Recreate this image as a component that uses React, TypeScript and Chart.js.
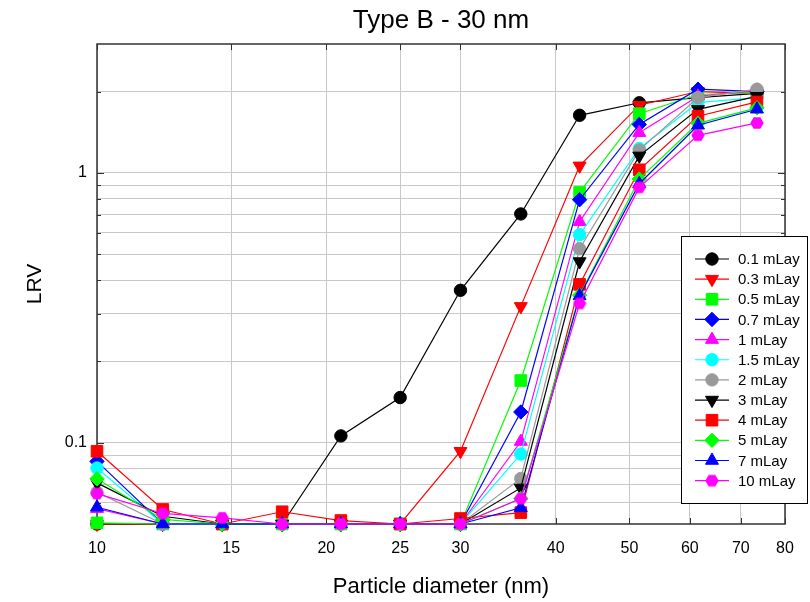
import React, { useEffect, useRef } from 'react';
import { Chart, registerables } from 'chart.js';
import { drawPoint } from 'chart.js/helpers';

Chart.register(...registerables);

// Particle diameters (nm) at which LRV was measured
const diameters = [10, 12.2, 14.6, 17.5, 20.9, 25, 30, 36, 43, 51.5, 61.5, 73.5];

// Axis ticks
const xTickValues = [10, 15, 20, 25, 30, 40, 50, 60, 70, 80];
const yGridValues = [0.06, 0.07, 0.08, 0.09, 0.1, 0.2, 0.3, 0.4, 0.5, 0.6, 0.7, 0.8, 0.9, 1, 2];
const yLabelValues = [0.1, 1];

// LRV per layer loading
const lrv01 = [0.05, 0.05, 0.05, 0.05, 0.106, 0.147, 0.367, 0.704, 1.633, 1.817, 1.9, 1.97];
const lrv03 = [0.05, 0.05, 0.05, 0.05, 0.05, 0.05, 0.093, 0.32, 1.061, 1.78, 2.0, 1.97];
const lrv05 = [0.0505, 0.05, 0.05, 0.05, 0.05, 0.05, 0.05, 0.17, 0.846, 1.655, 1.95, 1.98];
const lrv07 = [0.0853, 0.05, 0.05, 0.05, 0.05, 0.05, 0.05, 0.13, 0.795, 1.51, 2.04, 2.0];
const lrv1 = [0.057, 0.05, 0.05, 0.05, 0.05, 0.05, 0.05, 0.101, 0.659, 1.408, 1.92, 2.02];
const lrv15 = [0.0806, 0.05, 0.05, 0.05, 0.05, 0.05, 0.05, 0.0908, 0.59, 1.23, 1.82, 1.9];
const lrv2 = [0.0656, 0.05, 0.05, 0.05, 0.05, 0.05, 0.05, 0.0737, 0.523, 1.213, 1.9, 2.04];
const lrv3 = [0.071, 0.0534, 0.05, 0.05, 0.05, 0.05, 0.05, 0.068, 0.469, 1.155, 1.718, 1.92];
const lrv4 = [0.093, 0.0566, 0.05, 0.0555, 0.0515, 0.05, 0.0524, 0.0551, 0.386, 1.026, 1.62, 1.83];
const lrv5 = [0.0735, 0.052, 0.05, 0.05, 0.05, 0.05, 0.05, 0.0621, 0.352, 0.948, 1.525, 1.74];
const lrv7 = [0.0577, 0.05, 0.05, 0.05, 0.05, 0.05, 0.05, 0.0574, 0.35, 0.911, 1.5, 1.72];
const lrv10 = [0.0648, 0.0547, 0.0527, 0.05, 0.05, 0.05, 0.05, 0.0621, 0.328, 0.883, 1.377, 1.53];

const seriesLabels = ['0.1 mLay', '0.3 mLay', '0.5 mLay', '0.7 mLay', '1 mLay', '1.5 mLay', '2 mLay', '3 mLay', '4 mLay', '5 mLay', '7 mLay', '10 mLay'];
const seriesValues = [lrv01, lrv03, lrv05, lrv07, lrv1, lrv15, lrv2, lrv3, lrv4, lrv5, lrv7, lrv10];
const seriesColors = ['#000000', '#ff0000', '#00ff00', '#0000ff', '#ff00ff', '#00ffff', '#999999', '#000000', '#ff0000', '#00ff00', '#0000ff', '#ff00ff'];
const seriesMarkers = ['circle', 'triangleDown', 'square', 'diamond', 'triangle', 'circle', 'circle', 'triangleDown', 'square', 'diamond', 'triangle', 'hexagon'];

const FONT = "'Liberation Sans', Arial, Helvetica, sans-serif";

function makeHexagon(color: string, size: number): HTMLCanvasElement {
  const c = document.createElement('canvas');
  c.width = size;
  c.height = size;
  const g = c.getContext('2d')!;
  const r = size / 2 - 0.3;
  g.beginPath();
  for (let k = 0; k < 6; k++) {
    const a = (Math.PI / 3) * k;
    const px = size / 2 + r * Math.cos(a);
    const py = size / 2 + r * Math.sin(a);
    if (k === 0) g.moveTo(px, py);
    else g.lineTo(px, py);
  }
  g.closePath();
  g.fillStyle = color;
  g.fill();
  return c;
}

function markerStyle(kind: string, color: string): { pointStyle: any; radius: number; rotation: number } {
  switch (kind) {
    case 'triangle':
      return { pointStyle: 'triangle', radius: 7.5, rotation: 0 };
    case 'triangleDown':
      return { pointStyle: 'triangle', radius: 7.5, rotation: 180 };
    case 'square':
      return { pointStyle: 'rect', radius: 8.2, rotation: 0 };
    case 'diamond':
      return { pointStyle: 'rectRot', radius: 7.2, rotation: 0 };
    case 'hexagon':
      return { pointStyle: makeHexagon(color, 14), radius: 7, rotation: 0 };
    default:
      return { pointStyle: 'circle', radius: 6.2, rotation: 0 };
  }
}

export default function App() {
  const canvasRef = useRef<HTMLCanvasElement | null>(null);

  useEffect(() => {
    const canvas = canvasRef.current;
    if (!canvas) return;

    const styles = seriesMarkers.map((m, i) => markerStyle(m, seriesColors[i]));

    const datasets = seriesValues.map((vals, i) => ({
      label: seriesLabels[i],
      data: diameters.map((d, j) => ({ x: d, y: vals[j] })),
      borderColor: seriesColors[i],
      backgroundColor: seriesColors[i],
      pointBackgroundColor: seriesColors[i],
      pointBorderColor: seriesColors[i],
      pointBorderWidth: 1,
      pointStyle: styles[i].pointStyle,
      pointRadius: styles[i].radius,
      pointRotation: styles[i].rotation,
      borderWidth: 1.2,
      tension: 0,
      clip: false as any,
      order: seriesValues.length - i,
    }));

    const framePlugin = {
      id: 'frame',
      beforeDatasetsDraw(chart: any) {
        const { ctx, chartArea } = chart;
        const { left, right, top, bottom } = chartArea;
        const xs = chart.scales.x;
        const ys = chart.scales.y;
        ctx.save();
        ctx.strokeStyle = '#303030';
        ctx.lineWidth = 1;
        // inward tick marks on all four sides
        ctx.beginPath();
        xTickValues.forEach((v) => {
          const px = Math.round(xs.getPixelForValue(v)) + 0.5;
          ctx.moveTo(px, bottom);
          ctx.lineTo(px, bottom - 6);
          ctx.moveTo(px, top);
          ctx.lineTo(px, top + 6);
        });
        yGridValues.forEach((v) => {
          const py = Math.round(ys.getPixelForValue(v)) + 0.5;
          const len = yLabelValues.includes(v) ? 7 : 4;
          ctx.moveTo(left, py);
          ctx.lineTo(left + len, py);
          ctx.moveTo(right, py);
          ctx.lineTo(right - len, py);
        });
        ctx.stroke();
        // plot frame
        ctx.lineWidth = 1.5;
        ctx.strokeStyle = '#333333';
        ctx.strokeRect(left, top, right - left, bottom - top);
        ctx.restore();
      },
      afterDatasetsDraw(chart: any) {
        const { ctx } = chart;
        ctx.save();
        // legend box
        const bx = 681.5;
        const by = 236.5;
        const bw = 126;
        const bh = 267;
        ctx.fillStyle = '#ffffff';
        ctx.fillRect(bx, by, bw, bh);
        ctx.strokeStyle = '#000000';
        ctx.lineWidth = 1;
        ctx.strokeRect(bx, by, bw, bh);
        ctx.font = `15px ${FONT}`;
        ctx.textBaseline = 'middle';
        ctx.textAlign = 'left';
        seriesLabels.forEach((label, i) => {
          const y = 259 + i * 20.15;
          ctx.strokeStyle = seriesColors[i];
          ctx.lineWidth = 1.2;
          ctx.beginPath();
          ctx.moveTo(695, y);
          ctx.lineTo(729, y);
          ctx.stroke();
          ctx.fillStyle = seriesColors[i];
          ctx.strokeStyle = seriesColors[i];
          ctx.lineWidth = 1;
          drawPoint(ctx, {
            pointStyle: styles[i].pointStyle,
            radius: styles[i].radius,
            rotation: styles[i].rotation,
            borderWidth: 1,
          } as any, 712, y);
          ctx.fillStyle = '#000000';
          ctx.fillText(label, 738, y + 1);
        });
        ctx.restore();
      },
      afterDraw(chart: any) {
        const { ctx, chartArea } = chart;
        const cx = (chartArea.left + chartArea.right) / 2;
        const cy = (chartArea.top + chartArea.bottom) / 2;
        ctx.save();
        ctx.fillStyle = '#000000';
        ctx.textAlign = 'center';
        ctx.textBaseline = 'middle';
        ctx.font = `26px ${FONT}`;
        ctx.fillText('Type B - 30 nm', cx, 21);
        ctx.font = `22px ${FONT}`;
        ctx.fillText('Particle diameter (nm)', cx, 587);
        ctx.translate(35, cy);
        ctx.rotate(-Math.PI / 2);
        ctx.font = `21px ${FONT}`;
        ctx.fillText('LRV', 0, 0);
        ctx.restore();
      },
    };

    const chart = new Chart(canvas, {
      type: 'line',
      data: { datasets: datasets as any },
      options: {
        responsive: false,
        animation: false,
        events: [],
        layout: { padding: { top: 44, right: 25, left: 0, bottom: 0 } },
        plugins: {
          legend: { display: false },
          title: { display: false },
          tooltip: { enabled: false },
        },
        scales: {
          x: {
            type: 'logarithmic',
            min: 10,
            max: 80,
            afterBuildTicks: (scale: any) => {
              scale.ticks = xTickValues.map((v) => ({ value: v }));
            },
            afterFit: (scale: any) => {
              scale.height = 78;
            },
            ticks: {
              autoSkip: false,
              maxRotation: 0,
              padding: 15,
              color: '#000000',
              font: { family: FONT, size: 16 },
              callback: (v: any) => String(v),
            },
            grid: { color: '#c8c8c8', lineWidth: 1, drawTicks: false },
            border: { display: false },
          },
          y: {
            type: 'logarithmic',
            min: 0.05,
            max: 3,
            afterBuildTicks: (scale: any) => {
              scale.ticks = yGridValues.map((v) => ({ value: v }));
            },
            afterFit: (scale: any) => {
              scale.width = 97;
            },
            ticks: {
              autoSkip: false,
              padding: 10,
              color: '#000000',
              font: { family: FONT, size: 16 },
              callback: (v: any) => (yLabelValues.includes(v) ? String(v) : ''),
            },
            grid: { color: '#c8c8c8', lineWidth: 1, drawTicks: false },
            border: { display: false },
          },
        },
      },
      plugins: [framePlugin],
    });

    return () => {
      chart.destroy();
    };
  }, []);

  return (
    <div style={{ position: 'absolute', left: 0, top: 0, width: 810, height: 602, background: '#ffffff' }}>
      <canvas ref={canvasRef} width={810} height={602} style={{ display: 'block' }} />
    </div>
  );
}
